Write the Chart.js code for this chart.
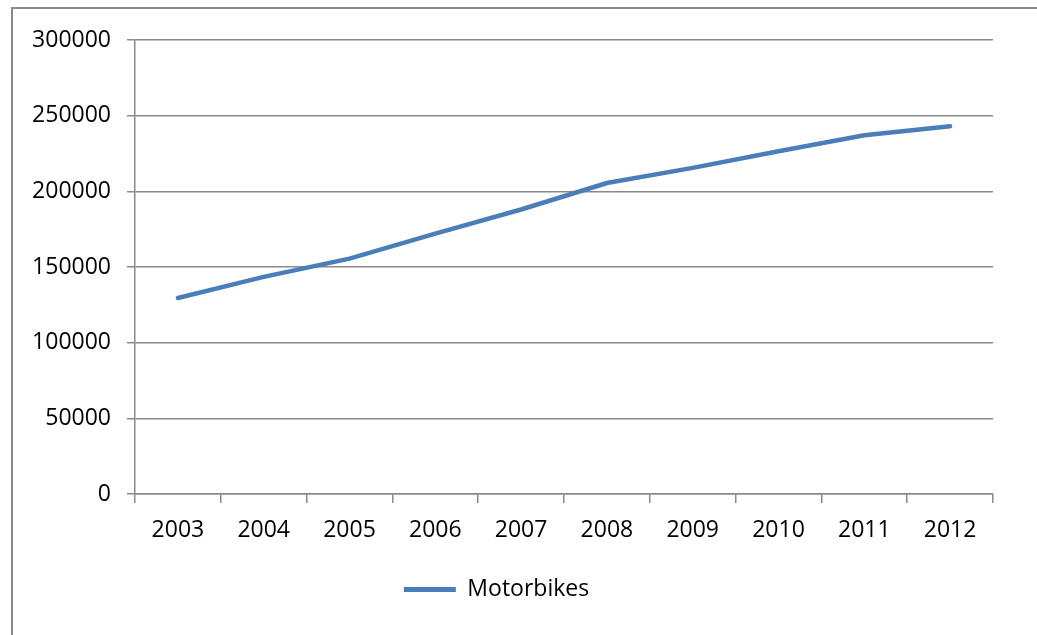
<!DOCTYPE html>
<html>
<head>
<meta charset="utf-8">
<script src="https://cdn.jsdelivr.net/npm/chart.js@4"></script>
<style>
  html, body { margin: 0; padding: 0; background: #fff; overflow: hidden; }
  #frame {
    position: absolute; left: 11px; top: 7px; width: 1100px; height: 700px;
    border-left: 2px solid #898989; border-top: 2px solid #898989;
  }
  #chart { position: absolute; left: 0; top: 0; }
</style>
</head>
<body>
<div id="frame"></div>
<canvas id="chart" width="1037" height="635"></canvas>
<script>
// 資料
const years = ['2003', '2004', '2005', '2006', '2007', '2008', '2009', '2010', '2011', '2012'];
const motorbikes = [129500, 143500, 155500, 172000, 188000, 205500, 215500, 226500, 237000, 243000];
const yTicks = [0, 50000, 100000, 150000, 200000, 250000, 300000];

const FONT = { family: "'Open Sans', 'Liberation Sans', sans-serif", size: 23 };
const GRID = '#8a8a8a';
const BLUE = '#4a7ebb';

document.addEventListener('DOMContentLoaded', function() {
    createChart();
});

function createChart() {
    const ctx = document.getElementById('chart');
    if (!ctx) return;

    new Chart(ctx, {
        type: 'line',
        data: {
            labels: years,
            datasets: [{
                label: 'Motorbikes',
                data: motorbikes,
                borderColor: BLUE,
                backgroundColor: BLUE,
                borderWidth: 4.5,
                borderCapStyle: 'round',
                pointRadius: 0,
                tension: 0,
                fill: false
            }]
        },
        options: {
            responsive: false,
            animation: false,
            devicePixelRatio: 1,
            layout: {
                padding: { top: 40, right: 44, bottom: 24, left: 0 }
            },
            plugins: {
                tooltip: { enabled: false },
                legend: {
                    position: 'bottom',
                    labels: {
                        font: FONT,
                        color: '#000',
                        boxWidth: 52,
                        boxHeight: 5,
                        padding: 10,
                        generateLabels: function(chart) {
                            return chart.data.datasets.map(function(ds, i) {
                                return {
                                    text: ds.label,
                                    fillStyle: BLUE,
                                    strokeStyle: BLUE,
                                    lineWidth: 0,
                                    fontColor: '#000',
                                    datasetIndex: i
                                };
                            });
                        }
                    }
                }
            },
            scales: {
                x: {
                    offset: true,
                    afterFit: function(scale) { scale.height = 74; },
                    ticks: {
                        font: FONT,
                        color: '#000',
                        padding: 14,
                        maxRotation: 0
                    },
                    grid: {
                        offset: true,
                        drawOnChartArea: false,
                        drawTicks: true,
                        tickLength: 9,
                        color: GRID,
                        lineWidth: 1.5
                    },
                    border: { display: true, color: GRID, width: 1.5 }
                },
                y: {
                    min: 0,
                    max: 300000,
                    afterFit: function(scale) { scale.width = 135; },
                    afterBuildTicks: function(scale) {
                        scale.ticks = yTicks.map(function(v) { return { value: v }; });
                    },
                    ticks: {
                        font: FONT,
                        color: '#000',
                        padding: 16,
                        callback: function(value) { return String(value); }
                    },
                    grid: {
                        color: GRID,
                        lineWidth: 1.5,
                        tickLength: 8
                    },
                    border: { display: true, color: GRID, width: 1.5 }
                }
            }
        }
    });
}
</script>
</body>
</html>
